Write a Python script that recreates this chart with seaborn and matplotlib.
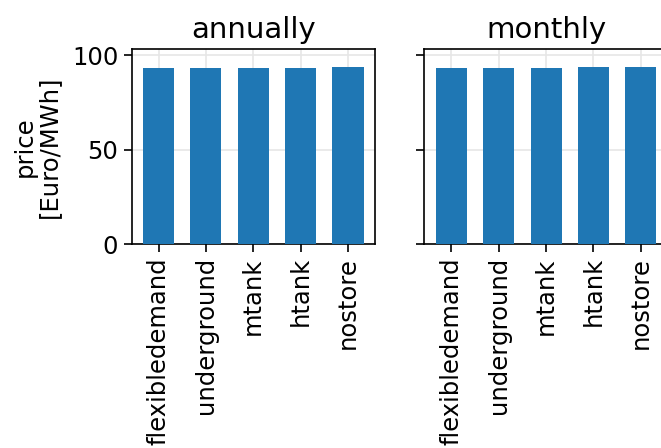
import matplotlib
matplotlib.use("Agg")
import matplotlib.pyplot as plt
import seaborn as sns
import pandas as pd

# Average electricity price per storage scenario, for two resolutions
scenarios = ["flexibledemand", "underground", "mtank", "htank", "nostore"]
price_annually = [93.1, 93.1, 93.1, 93.1, 93.6]
price_monthly = [93.1, 93.1, 93.1, 93.6, 93.6]
panel_titles = ["annually", "monthly"]

sns.set_theme(style="ticks")
plt.rcParams["font.family"] = ["DejaVu Sans"]
plt.rcParams["font.size"] = 17.5
plt.rcParams["text.color"] = "black"
plt.rcParams["axes.labelcolor"] = "black"
plt.rcParams["xtick.color"] = "black"
plt.rcParams["ytick.color"] = "black"

fig = plt.figure(figsize=(6.61, 4.48), dpi=100)
ax_w, ax_h = 243.5 / 661, 195 / 448
ax1 = fig.add_axes([131.5 / 661, 1 - 244 / 448, ax_w, ax_h])
ax2 = fig.add_axes([424.3 / 661, 1 - 244 / 448, ax_w, ax_h], sharey=ax1)

for ax, values, title in zip([ax1, ax2], [price_annually, price_monthly], panel_titles):
    df = pd.DataFrame({"scenario": scenarios, "price": values})
    sns.barplot(data=df, x="scenario", y="price", ax=ax, color="#1f77b4",
                saturation=1, width=0.655, errorbar=None, linewidth=0, zorder=3)
    ax.set_title(title, fontsize=21, pad=8, color="black")
    ax.set_xlabel("")
    ax.grid(True, color="#e6e6e6", linewidth=1.2, zorder=0)
    ax.set_axisbelow(True)
    ax.tick_params(axis="x", labelrotation=90, labelsize=17.5, length=6, width=1.2)
    ax.tick_params(axis="y", labelsize=17.5, length=6, width=1.2)
    for sp in ax.spines.values():
        sp.set_visible(True)
        sp.set_color("black")
        sp.set_linewidth(1.2)
    ax.set_xlim(-0.57, 4.57)

ax1.set_ylim(0, 103.2)
ax1.set_yticks([0, 50, 100])
ax1.set_ylabel("price\n[Euro/MWh]", fontsize=17.5, linespacing=1.0, labelpad=8)
ax2.set_ylabel("")
ax2.tick_params(axis="y", labelleft=False)

fig.savefig("out.png", dpi=100)
